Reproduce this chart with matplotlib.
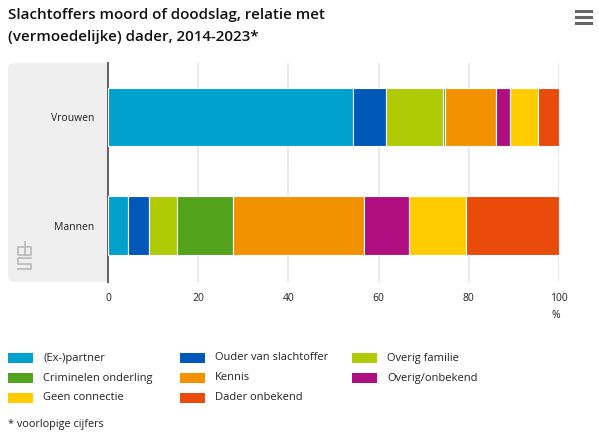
import numpy as np
import matplotlib as mpl
mpl.use("Agg")
import matplotlib.pyplot as plt
from matplotlib.patches import FancyBboxPatch, Rectangle
from matplotlib.lines import Line2D

mpl.rcParams["font.family"] = ["Open Sans", "DejaVu Sans"]

groups = ["Vrouwen", "Mannen"]
relations = [
    "(Ex-)partner", "Ouder van slachtoffer", "Overig familie",
    "Criminelen onderling", "Kennis", "Overig/onbekend",
    "Geen connectie", "Dader onbekend",
]
vrouwen = [54.3, 7.3, 12.7, 0.5, 11.3, 3.1, 6.2, 4.6]
mannen = [4.5, 4.5, 6.4, 12.4, 28.9, 10.0, 12.7, 20.6]
colors = ["#00A1CD", "#0058B8", "#AFCB05", "#53A31D",
          "#F39200", "#AF0E80", "#FFCC00", "#E94C0A"]
xticks = [0, 20, 40, 60, 80, 100]

W, H = 599, 442
fig = plt.figure(figsize=(W / 100, H / 100), dpi=100)

def fx(px):
    return px / W

def fy(py):
    return 1 - py / H

ax = fig.add_axes([fx(108), fy(282), fx(559) - fx(108), fy(63) - fy(282)])

# grey label panel behind the category names
panel = FancyBboxPatch((fx(8), fy(282)), fx(120) - fx(8), fy(63) - fy(282),
                       boxstyle="round,pad=0,rounding_size=0.012",
                       transform=fig.transFigure, facecolor="#EFEFEF",
                       edgecolor="none", zorder=-1)
fig.patches.append(panel)

# rough cbs logo outline
logo = [
    [(24, 247), (18, 247), (18, 255), (24, 255)],
    [(25, 242), (25, 255), (31, 255), (31, 247), (25, 247)],
    [(31, 258), (18, 258), (18, 263.5), (31, 263.5), (31, 269), (18, 269)],
]
for pts in logo:
    xs = [fx(p[0]) for p in pts]
    ys = [fy(p[1]) for p in pts]
    fig.lines.append(Line2D(xs, ys, transform=fig.transFigure,
                            color="#BDBDBD", linewidth=1.3))

values = np.array([vrouwen, mannen])
ypos = np.arange(len(groups))
left = np.zeros(len(groups))
for i, rel in enumerate(relations):
    ax.barh(ypos, values[:, i], left=left, height=0.54, color=colors[i],
            edgecolor="white", linewidth=0.8, zorder=3)
    left += values[:, i]

ax.set_xlim(0, 100)
ax.set_ylim(1.52, -0.5)
ax.set_xticks(xticks)
ax.set_xticklabels([str(t) for t in xticks], fontsize=7.5, color="#222222")
ax.tick_params(axis="x", length=0, pad=8)
ax.set_yticks(ypos)
ax.set_yticklabels(groups, fontsize=7.5, color="#222222")
ax.tick_params(axis="y", length=0, pad=10)
ax.grid(axis="x", color="#E6E6E6", linewidth=1.2, zorder=0)
for s in ["top", "right", "bottom"]:
    ax.spines[s].set_visible(False)
ax.spines["left"].set_color("#666666")
ax.spines["left"].set_linewidth(1.5)
ax.set_facecolor("white")

fig.text(fx(556), fy(316), "%", fontsize=7.5, color="#222222",
         ha="center", va="center")

fig.text(fx(8), fy(15), "Slachtoffers moord of doodslag, relatie met",
         fontsize=10.9, fontweight="semibold", color="#111111",
         ha="left", va="center")
fig.text(fx(8), fy(37), "(vermoedelijke) dader, 2014-2023*",
         fontsize=10.9, fontweight="semibold", color="#111111",
         ha="left", va="center")

# menu icon
for yy in [11, 17, 23]:
    fig.lines.append(Line2D([fx(576), fx(591)], [fy(yy), fy(yy)],
                            transform=fig.transFigure, color="#666666",
                            linewidth=2.2))

# legend, filled row by row
col_x = [8, 180, 352]
row_y = [358, 378, 398]
for i, rel in enumerate(relations):
    r, c = divmod(i, 3)
    x0, y0 = col_x[c], row_y[r]
    fig.patches.append(Rectangle((fx(x0), fy(y0 + 5)), fx(25), 10 / H,
                                 transform=fig.transFigure,
                                 facecolor=colors[i], edgecolor="none"))
    fig.text(fx(x0 + 35), fy(y0), rel, fontsize=8, color="#222222",
             ha="left", va="center")

fig.text(fx(8), fy(425), "* voorlopige cijfers", fontsize=7.8,
         color="#222222", ha="left", va="center")

fig.savefig("out.png", dpi=100)
